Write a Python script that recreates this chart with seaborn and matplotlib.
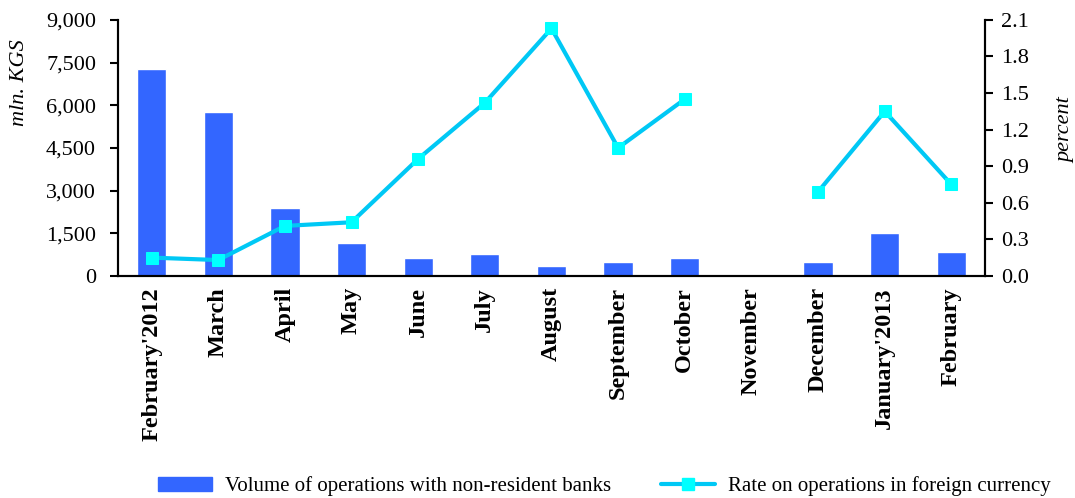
import numpy as np
import pandas as pd
import matplotlib
matplotlib.use("Agg")
import matplotlib.pyplot as plt
import seaborn as sns
from matplotlib.patches import Patch
from matplotlib.lines import Line2D
from matplotlib.ticker import FuncFormatter, MultipleLocator

months = ["February'2012", "March", "April", "May", "June", "July", "August",
          "September", "October", "November", "December", "January'2013", "February"]
volume = [7280, 5770, 2390, 1160, 630, 770, 350, 490, 630, 0, 490, 1510, 840]
rate = [0.15, 0.13, 0.41, 0.44, 0.96, 1.42, 2.03, 1.05, 1.45, np.nan, 0.69, 1.35, 0.75]
segment = [0, 0, 0, 0, 0, 0, 0, 0, 0, 1, 1, 1, 1]

bar_label = "Volume of operations with non-resident banks"
line_label = "Rate on operations in foreign currency"

sns.set_theme(style="white")
plt.rcParams['font.family'] = ['Liberation Serif', 'DejaVu Serif']
plt.rcParams['text.color'] = 'black'
plt.rcParams['axes.labelcolor'] = 'black'
plt.rcParams['xtick.color'] = 'black'
plt.rcParams['ytick.color'] = 'black'

bar_color = "#3366FF"
line_color = "#00C8F5"
marker_color = "#00FFFF"

df = pd.DataFrame({"month": months, "volume": volume, "rate": rate,
                   "pos": np.arange(len(months)), "seg": segment})

fig = plt.figure(figsize=(10.75, 4.98), dpi=100)
ax = fig.add_axes([0.11, 0.446, 0.806, 0.514])

sns.barplot(data=df, x="month", y="volume", color=bar_color, width=0.44,
            saturation=1, ax=ax, order=months)
ax.set_xlim(-0.5, len(months) - 0.5)
ax.set_ylim(0, 9000)
ax.yaxis.set_major_locator(MultipleLocator(1500))
ax.yaxis.set_major_formatter(FuncFormatter(lambda v, p: f"{int(v):,}"))
ax.set_xlabel("")
ax.set_ylabel("mln. KGS", fontsize=16, style="italic")
ax.yaxis.set_label_coords(-0.103, 0.754)

ax2 = ax.twinx()
sns.lineplot(data=df.dropna(), x="pos", y="rate", units="seg", estimator=None,
             color=line_color, linewidth=3, marker="s", markersize=9,
             markerfacecolor=marker_color, markeredgecolor=marker_color,
             ax=ax2, legend=False)
ax2.set_ylim(0, 2.1)
ax2.yaxis.set_major_locator(MultipleLocator(0.3))
ax2.yaxis.set_major_formatter(FuncFormatter(lambda v, p: f"{v:.1f}"))
ax2.set_xlim(-0.5, len(months) - 0.5)
ax2.set_xlabel("")
ax2.set_ylabel("percent", fontsize=16, style="italic")
ax2.yaxis.set_label_coords(1.083, 0.57)

for a in (ax, ax2):
    a.spines["top"].set_visible(False)
    for s in ["left", "right", "bottom"]:
        a.spines[s].set_color("black")
        a.spines[s].set_linewidth(1.5)

ax.set_xticks(np.arange(len(months)))
ax.set_xticklabels(months, rotation=90, fontsize=17.5, fontweight="bold")
ax.tick_params(axis="x", which="major", length=0, pad=8)
ax.set_xticks(np.arange(len(months) + 1) - 0.5, minor=True)
ax.tick_params(axis="x", which="minor", length=10, width=1.5, direction="inout", color="black")
ax.tick_params(axis="y", left=True, length=6, width=1.5, direction="out", labelsize=16,
               color="black", pad=10)
ax2.tick_params(axis="y", right=True, length=6, width=1.5, direction="out", labelsize=16,
                color="black", pad=6)
ax2.tick_params(axis="x", bottom=False, labelbottom=False)

handles = [Patch(facecolor=bar_color, edgecolor=bar_color),
           Line2D([0], [0], color=line_color, linewidth=3, marker="s", markersize=9,
                  markerfacecolor=marker_color, markeredgecolor=marker_color)]
fig.legend(handles, [bar_label, line_label], loc="lower center", ncol=2,
           bbox_to_anchor=(0.562, -0.034), frameon=False, fontsize=15,
           columnspacing=2.4, handlelength=2.6, handletextpad=0.6)

fig.savefig("out.png", dpi=100)
